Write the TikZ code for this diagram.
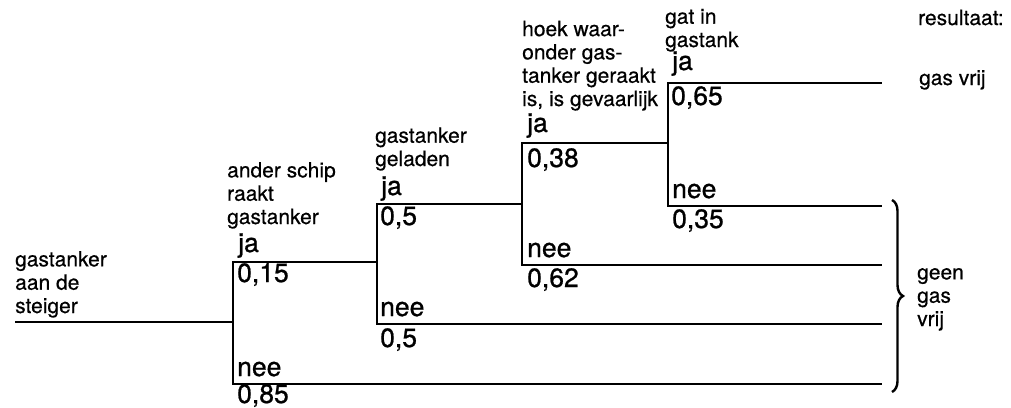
\documentclass[tikz,border=0pt]{standalone}
\usepackage{fontspec}
\setmainfont{TeX Gyre Heros}
\newfontfamily\qfont[FakeBold=0.5]{TeX Gyre Heros}
\newfontfamily\afont[FakeBold=0.8]{TeX Gyre Heros}
\usetikzlibrary{decorations.pathreplacing}
\begin{document}
\begin{tikzpicture}[x=1pt,y=-1pt,
  branch/.style={line width=2.4pt,line join=miter,line cap=rect},
  question/.style={anchor=base west,inner sep=0pt,align=left,font=\qfont\fontsize{21}{23.3}\selectfont},
  answer/.style={anchor=base west,inner sep=0pt,font=\afont\fontsize{26.5}{28}\selectfont},
  bracestyle/.style={line width=2.4pt,decorate,decoration={brace,amplitude=11pt}}]
\useasboundingbox (0,0) rectangle (1011,407);
% junction coordinates
\coordinate (s0) at (16,322);
\coordinate (v1) at (233,322);
\coordinate (v1t) at (233,262);
\coordinate (v1b) at (233,384);
\coordinate (v2) at (377,262);
\coordinate (v2t) at (377,204);
\coordinate (v2b) at (377,324);
\coordinate (v3) at (522,204);
\coordinate (v3t) at (522,143);
\coordinate (v3b) at (522,265);
\coordinate (v4) at (668,143);
\coordinate (v4t) at (668,83);
\coordinate (v4b) at (668,206);
\coordinate (o1) at (881,83);
\coordinate (o2) at (881,206);
\coordinate (o3) at (881,265);
\coordinate (o4) at (881,324);
\coordinate (o5) at (881,384);
\coordinate (bt) at (892,200);
\coordinate (bb) at (892,392);
% tree
\draw[branch] (s0) -- (v1);
\draw[branch] (v2) -- (v1t) -- (v1b) -- (o5);
\draw[branch] (v3) -- (v2t) -- (v2b) -- (o4);
\draw[branch] (v4) -- (v3t) -- (v3b) -- (o3);
\draw[branch] (o1) -- (v4t) -- (v4b) -- (o2);
\draw[bracestyle] (bt) -- (bb);
% questions (base = baseline of last line)
\node[question] (q0) at (15,313) {gastanker\\aan de\\steiger};
\node[question] (q1) at (227,224) {ander schip\\raakt\\gastanker};
\node[question] (q2) at (375,166) {gastanker\\geladen};
\node[question] (q3) at (522,106) {hoek waar-\\onder gas-\\tanker geraakt\\is, is gevaarlijk};
\node[question] (q4) at (665,47) {gat in\\gastank};
\node[question] (res) at (918,25) {resultaat:};
\node[question] (gv) at (919,85) {gas vrij};
\node[question] (ggv) at (917,326) {geen\\gas\\vrij};
% answers
\node[answer] (ja1) at (238,252) {ja};
\node[answer] (p1) at (237,282) {0,15};
\node[answer] (nee1) at (237,376) {nee};
\node[answer] (q1n) at (237,403) {0,85};
\node[answer] (ja2) at (381,195) {ja};
\node[answer] (p2) at (380,225) {0,5};
\node[answer] (nee2) at (380,316) {nee};
\node[answer] (p2n) at (380,347) {0,5};
\node[answer] (ja3) at (527,132) {ja};
\node[answer] (p3) at (527,167) {0,38};
\node[answer] (nee3) at (527,257) {nee};
\node[answer] (p3n) at (527,287) {0,62};
\node[answer] (ja4) at (672,70) {ja};
\node[answer] (p4) at (671,105) {0,65};
\node[answer] (nee4) at (672,198) {nee};
\node[answer] (p4n) at (672,228) {0,35};
\end{tikzpicture}
\end{document}
